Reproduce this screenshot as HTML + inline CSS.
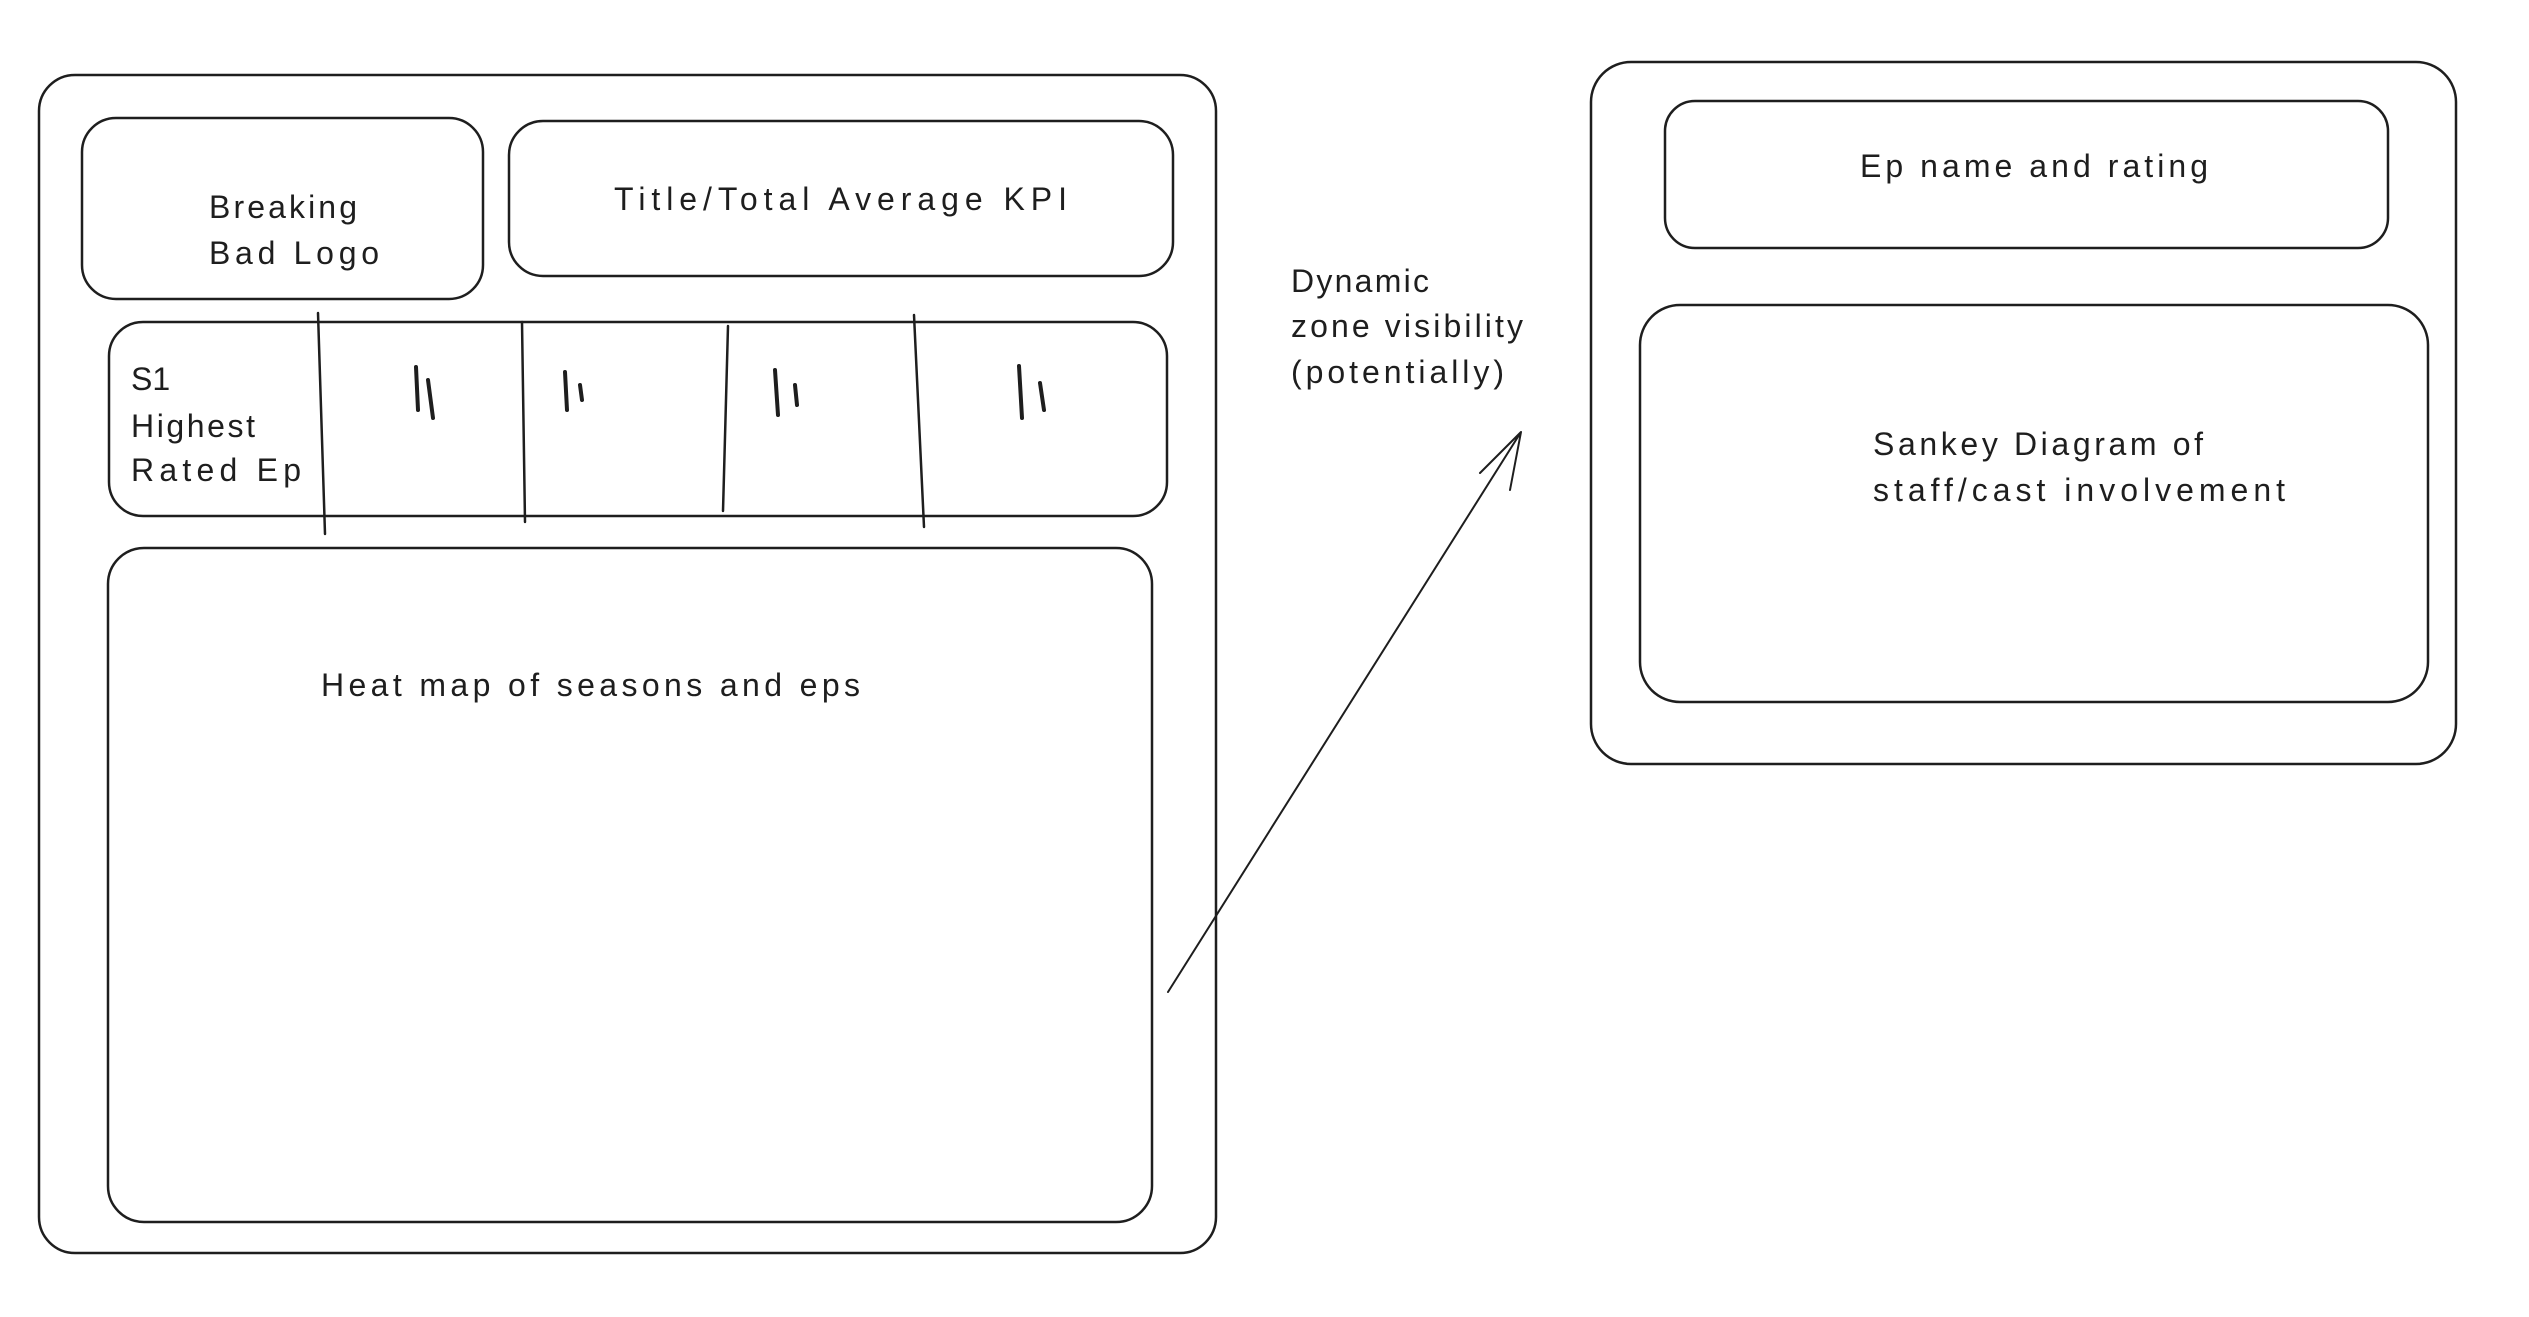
<!DOCTYPE html>
<html><head><meta charset="utf-8"><style>
html,body{margin:0;padding:0;background:#fff;}
svg{display:block;}
text{font-family:"Liberation Sans",sans-serif;font-size:32px;fill:#1e1e1e;}
</style></head><body>
<svg width="2529" height="1317" viewBox="0 0 2529 1317" xmlns="http://www.w3.org/2000/svg">
<g fill="none" stroke="#1e1e1e" stroke-width="2.5" stroke-linecap="round">
<rect x="39" y="75" width="1177" height="1178" rx="36"/>
<rect x="82" y="118" width="401" height="181" rx="34"/>
<rect x="509" y="121" width="664" height="155" rx="34"/>
<rect x="109" y="322" width="1058" height="194" rx="34"/>
<line x1="318" y1="313" x2="325" y2="534"/>
<line x1="522" y1="322" x2="525" y2="522"/>
<line x1="728" y1="326" x2="723" y2="511"/>
<line x1="914" y1="315" x2="924" y2="527"/>
<rect x="108" y="548" width="1044" height="674" rx="36"/>
<rect x="1591" y="62" width="865" height="702" rx="40"/>
<rect x="1665" y="101" width="723" height="147" rx="30"/>
<rect x="1640" y="305" width="788" height="397" rx="40"/>
<path d="M1168 992 L1521 432 M1521 432 L1480 473 M1521 432 L1510 490" stroke-width="2"/>
<g stroke-width="4">
<path d="M416 367 L418 410 M428 380 L433 418"/>
<path d="M565 372 L567 410 M580 385 L582 400"/>
<path d="M775 370 L778 415 M795 385 L797 405"/>
<path d="M1019 366 L1022 418 M1040 383 L1044 410"/>
</g>
</g>
<text x="209" y="218" textLength="148">Breaking</text>
<text x="209" y="264" textLength="170">Bad Logo</text>
<text x="614" y="210" textLength="453">Title/Total Average KPI</text>
<text x="131" y="390">S1</text>
<text x="131" y="437" textLength="124">Highest</text>
<text x="131" y="481" textLength="170">Rated Ep</text>
<text x="321" y="696" textLength="539">Heat map of seasons and eps</text>
<text x="1860" y="177" textLength="348">Ep name and rating</text>
<text x="1873" y="455" textLength="330">Sankey Diagram of</text>
<text x="1873" y="501" textLength="412">staff/cast involvement</text>
<text x="1291" y="292" textLength="138">Dynamic</text>
<text x="1291" y="337" textLength="232">zone visibility</text>
<text x="1291" y="383" textLength="213">(potentially)</text>
</svg>
</body></html>
